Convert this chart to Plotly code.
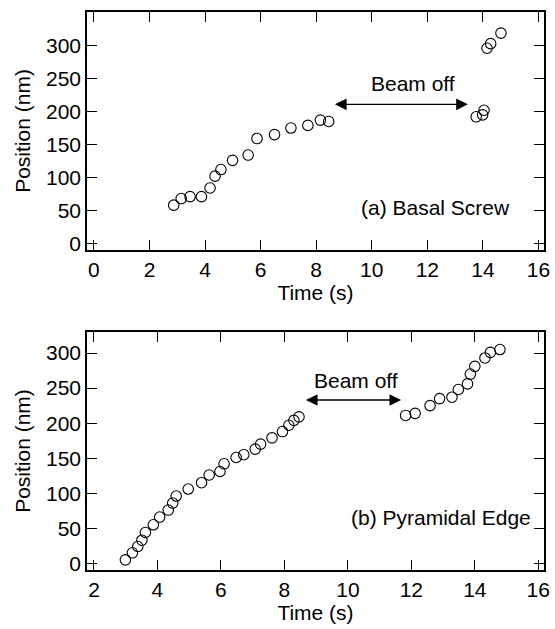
import plotly.graph_objects as go
from plotly.subplots import make_subplots

# (a) Basal Screw
time_a = [2.87, 3.14, 3.46, 3.87, 4.18, 4.36, 4.57, 4.99, 5.55, 5.87, 6.50, 7.09, 7.70, 8.15, 8.45,
          13.76, 13.99, 14.04, 14.15, 14.28, 14.65]
pos_a = [58, 68, 71, 71, 84, 102, 112, 126, 134, 159, 165, 175, 179, 187, 185,
         192, 195, 202, 296, 303, 319]

# (b) Pyramidal Edge
time_b = [2.99, 3.21, 3.38, 3.51, 3.62, 3.87, 4.07, 4.34, 4.48, 4.59, 4.97, 5.39, 5.63, 5.97, 6.10,
          6.48, 6.72, 7.08, 7.25, 7.61, 7.94, 8.14, 8.30, 8.46,
          11.82, 12.12, 12.59, 12.89, 13.28, 13.48, 13.77, 13.86, 14.00, 14.32, 14.49, 14.79]
pos_b = [5, 15, 24, 33, 44, 55, 66, 76, 86, 96, 106, 115, 126, 131, 142,
         151, 155, 163, 170, 179, 188, 197, 204, 209,
         211, 214, 225, 235, 237, 248, 256, 270, 281, 293, 301, 305]

x_ticks_a = [0, 2, 4, 6, 8, 10, 12, 14, 16]
x_ticks_b = [2, 4, 6, 8, 10, 12, 14, 16]
y_ticks = [0, 50, 100, 150, 200, 250, 300]

FONT = "Liberation Sans, Arial, sans-serif"
FS = 21

fig = make_subplots(rows=2, cols=1, vertical_spacing=0.1)

marker = dict(symbol="circle-open", size=10.5, color="black", line=dict(width=1.1, color="black"))
fig.add_trace(go.Scatter(x=time_a, y=pos_a, mode="markers", marker=marker, showlegend=False), row=1, col=1)
fig.add_trace(go.Scatter(x=time_b, y=pos_b, mode="markers", marker=marker, showlegend=False), row=2, col=1)

axis_common = dict(
    showline=True, linecolor="black", linewidth=1.6, mirror="ticks",
    ticks="inside", ticklen=10, tickwidth=1.3, tickcolor="black",
    showgrid=False, zeroline=False,
    tickfont=dict(family=FONT, size=FS, color="black"),
)

fig.update_xaxes(**axis_common)
fig.update_yaxes(**axis_common)

tfont = dict(family=FONT, size=FS, color="black")
fig.update_xaxes(range=[-0.25, 16.2], tickvals=x_ticks_a, row=1, col=1,
                 title=dict(text="Time (s)", font=tfont, standoff=2))
fig.update_xaxes(range=[1.78, 16.18], tickvals=x_ticks_b, row=2, col=1,
                 title=dict(text="Time (s)", font=tfont, standoff=2))
fig.update_yaxes(range=[-10, 351], tickvals=y_ticks, row=1, col=1,
                 title=dict(text="Position (nm)", font=tfont, standoff=10))
fig.update_yaxes(range=[-9.5, 330], tickvals=y_ticks, row=2, col=1,
                 title=dict(text="Position (nm)", font=tfont, standoff=10))

fig.update_layout(
    yaxis=dict(domain=[0.5735, 1.0]),
    yaxis2=dict(domain=[0.0, 0.4265]),
)

annos = [
    # top panel
    dict(x=13.46, y=211, ax=8.62, ay=211, xref="x", yref="y", axref="x", ayref="y",
         showarrow=True, arrowhead=2, arrowside="end+start", arrowsize=1.8, arrowwidth=1.3,
         arrowcolor="black", text=""),
    dict(x=11.5, y=243, xref="x", yref="y", text="Beam off", showarrow=False, font=tfont),
    dict(x=15.05, y=54, xref="x", yref="y", xanchor="right", text="(a) Basal Screw", showarrow=False,
         font=tfont),
    # bottom panel
    dict(x=11.68, y=233, ax=8.63, ay=233, xref="x2", yref="y2", axref="x2", ayref="y2",
         showarrow=True, arrowhead=2, arrowside="end+start", arrowsize=1.8, arrowwidth=1.3,
         arrowcolor="black", text=""),
    dict(x=10.27, y=261, xref="x2", yref="y2", text="Beam off", showarrow=False, font=tfont),
    dict(x=15.83, y=66, xref="x2", yref="y2", xanchor="right", text="(b) Pyramidal Edge", showarrow=False,
         font=tfont),
]

fig.update_layout(
    width=555, height=629,
    margin=dict(l=87, r=5, t=12, b=59),
    paper_bgcolor="white", plot_bgcolor="white",
    annotations=annos,
    font=dict(family=FONT, color="black"),
)

fig.write_html("out.html")
